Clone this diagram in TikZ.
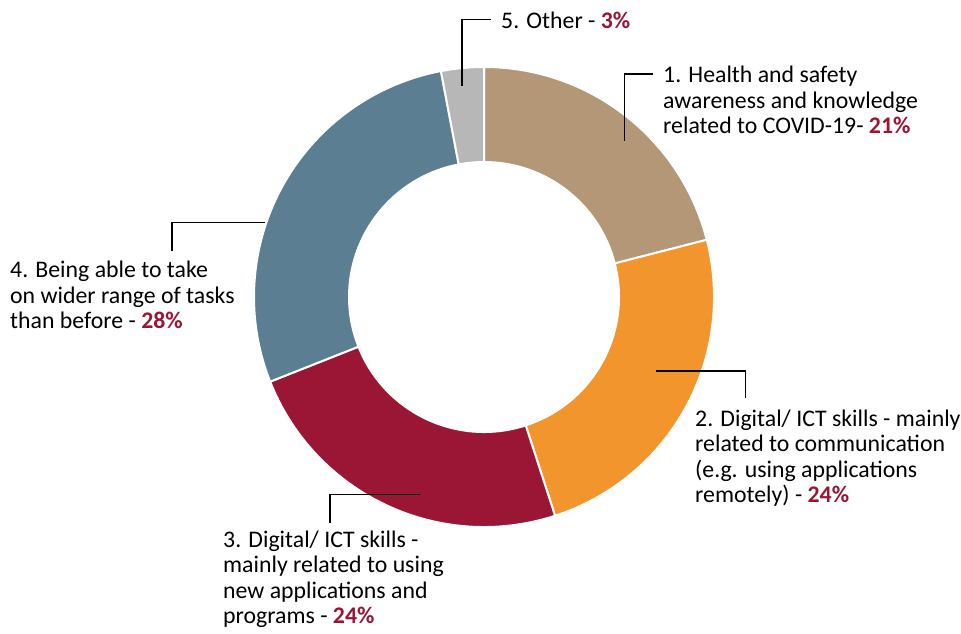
\documentclass[tikz,border=0pt]{standalone}
\usepackage{fontspec}
\setmainfont{Carlito}
\definecolor{cTan}{HTML}{B39776}
\definecolor{cOrange}{HTML}{F2952D}
\definecolor{cCrimson}{HTML}{9B1535}
\definecolor{cBlue}{HTML}{5B7E92}
\definecolor{cGrey}{HTML}{B7B7B7}
\definecolor{cPct}{HTML}{9B1535}
\newcommand{\pct}[1]{\textcolor{cPct}{\bfseries #1}}
\tikzset{
  slice/.style={draw=white, line width=2pt, line join=round},
  leader/.style={draw=black, line width=1.6pt},
  lbl/.style={anchor=base west, inner sep=0pt, align=left, font=\fontsize{23.8}{25.6}\selectfont}
}
\begin{document}
\begin{tikzpicture}[x=1pt,y=1pt]
\useasboundingbox (0,0) rectangle (961,634);
\fill[white] (0,0) rectangle (961,634);
\begin{scope}[shift={(484,337)}]
\def\Ro{230}\def\Ri{135}
\filldraw[slice, fill=cTan] (90:\Ro) arc[start angle=90, end angle=14.4, radius=\Ro] -- (14.4:\Ri) arc[start angle=14.4, end angle=90, radius=\Ri] -- cycle;
\filldraw[slice, fill=cOrange] (14.4:\Ro) arc[start angle=14.4, end angle=-72, radius=\Ro] -- (-72:\Ri) arc[start angle=-72, end angle=14.4, radius=\Ri] -- cycle;
\filldraw[slice, fill=cCrimson] (-72:\Ro) arc[start angle=-72, end angle=-158.4, radius=\Ro] -- (-158.4:\Ri) arc[start angle=-158.4, end angle=-72, radius=\Ri] -- cycle;
\filldraw[slice, fill=cBlue] (-158.4:\Ro) arc[start angle=-158.4, end angle=-259.2, radius=\Ro] -- (-259.2:\Ri) arc[start angle=-259.2, end angle=-158.4, radius=\Ri] -- cycle;
\filldraw[slice, fill=cGrey] (100.8:\Ro) arc[start angle=100.8, end angle=90, radius=\Ro] -- (90:\Ri) arc[start angle=90, end angle=100.8, radius=\Ri] -- cycle;
\end{scope}

% labels (anchor = baseline of last line)
\node[lbl] (l5) at (501,605) {5. Other - \pct{3\%}};
\node[lbl] (l1) at (663,500) {1. Health and safety\\awareness and knowledge\\related to COVID-19- \pct{21\%}};
\node[lbl] (l2) at (695,131) {2. Digital/ ICT skills - mainly\\related to communication\\(e.g. using applications\\remotely) - \pct{24\%}};
\node[lbl] (l3) at (223,10) {3. Digital/ ICT skills -\\mainly related to using\\new applications and\\programs - \pct{24\%}};
\node[lbl] (l4) at (10,305) {4. Being able to take\\on wider range of tasks\\than before - \pct{28\%}};

% leader lines
\coordinate (s5) at (462,548);   \coordinate (e5) at (490.5,614.3);
\coordinate (s1) at (624.5,493); \coordinate (e1) at (653,560);
\coordinate (s2) at (655.7,263); \coordinate (e2) at (745.3,236);
\coordinate (s3) at (420,139.3); \coordinate (e3) at (330,111.3);
\coordinate (s4) at (265,411.3); \coordinate (e4) at (171.7,383.3);
\draw[leader] (s5) |- (e5);
\draw[leader] (s1) |- (e1);
\draw[leader] (s2) -| (e2);
\draw[leader] (s3) -| (e3);
\draw[leader] (s4) -| (e4);
\end{tikzpicture}
\end{document}
